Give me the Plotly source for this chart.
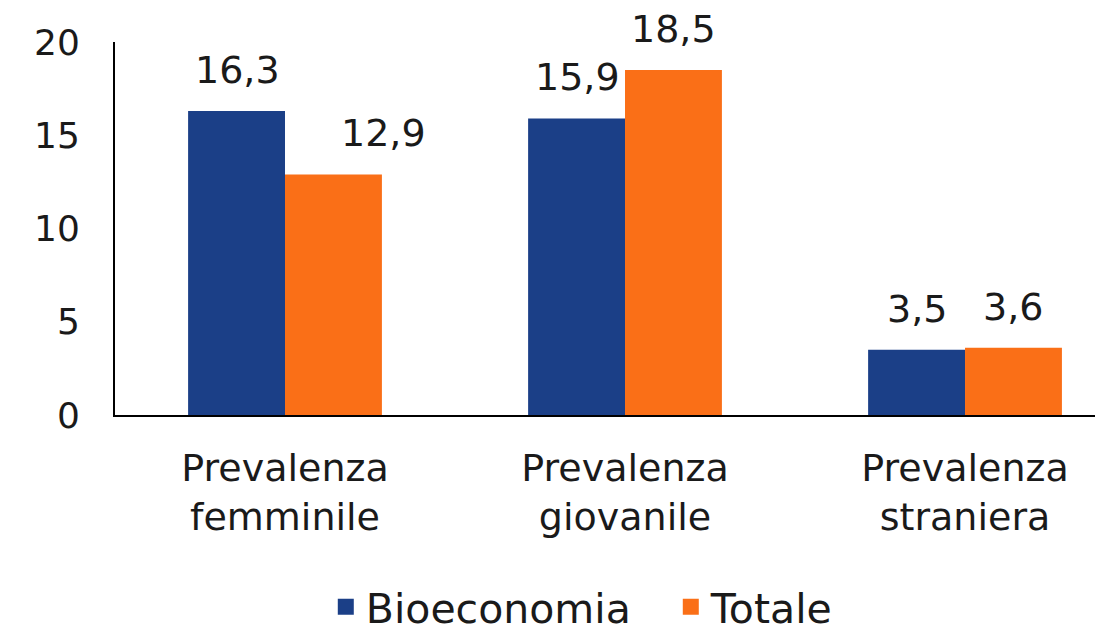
import plotly.graph_objects as go

categories = ["Prevalenza<br>femminile", "Prevalenza<br>giovanile", "Prevalenza<br>straniera"]
bio_values = [16.3, 15.9, 3.5]
tot_values = [12.9, 18.5, 3.6]
bio_labels = ["16,3", "15,9", "3,5"]
tot_labels = ["12,9", "18,5", "3,6"]
y_ticks = [0, 5, 10, 15, 20]

BLUE = "#1B3F87"
ORANGE = "#FA6F17"
FONT = "DejaVu Sans"
TXT = "#1a1a1a"

fig = go.Figure()
fig.add_trace(go.Bar(name="Bioeconomia", x=categories, y=bio_values, marker_color=BLUE,
                     marker_line_width=0, showlegend=False))
fig.add_trace(go.Bar(name="Totale", x=categories, y=tot_values, marker_color=ORANGE,
                     marker_line_width=0, showlegend=False))
# legend entries with larger square swatches
for name, col in [("Bioeconomia", BLUE), ("Totale", ORANGE)]:
    fig.add_trace(go.Scatter(name=name, x=[None], y=[None], mode="markers",
                             marker=dict(symbol="square", size=16, color=col),
                             showlegend=True, hoverinfo="skip"))

bar_off_px = 48
extra_shift = {0: 50}
for i, c in enumerate(categories):
    fig.add_annotation(x=c, y=bio_values[i], text=bio_labels[i], showarrow=False,
                       xshift=-bar_off_px, yshift=17, yanchor="bottom",
                       font=dict(family=FONT, size=38, color=TXT))
    fig.add_annotation(x=c, y=tot_values[i], text=tot_labels[i], showarrow=False,
                       xshift=bar_off_px + extra_shift.get(i, 0), yshift=17, yanchor="bottom",
                       font=dict(family=FONT, size=38, color=TXT))

fig.update_layout(
    width=1103, height=644,
    margin=dict(l=107, r=11, t=34, b=234),
    paper_bgcolor="white", plot_bgcolor="white",
    barmode="group", bargap=0.43, bargroupgap=0,
    font=dict(family=FONT, size=36, color=TXT),
    showlegend=True,
    legend=dict(orientation="h", x=0.214, xanchor="left", y=-0.515, yanchor="middle",
                font=dict(family=FONT, size=41, color=TXT), itemwidth=30,
                entrywidth=300, traceorder="normal"),
)
fig.update_xaxes(range=[-0.5, 2.397], showline=True, linecolor="black", linewidth=2,
                 showgrid=False, ticks="", ticklabelstandoff=18,
                 tickfont=dict(family=FONT, size=38, color=TXT))
fig.update_yaxes(range=[0, 20], tickvals=y_ticks, showline=True, linecolor="black", linewidth=2,
                 showgrid=False, zeroline=False, ticks="", ticklabelstandoff=26,
                 tickfont=dict(family=FONT, size=36, color=TXT))

fig.write_html("out.html")
